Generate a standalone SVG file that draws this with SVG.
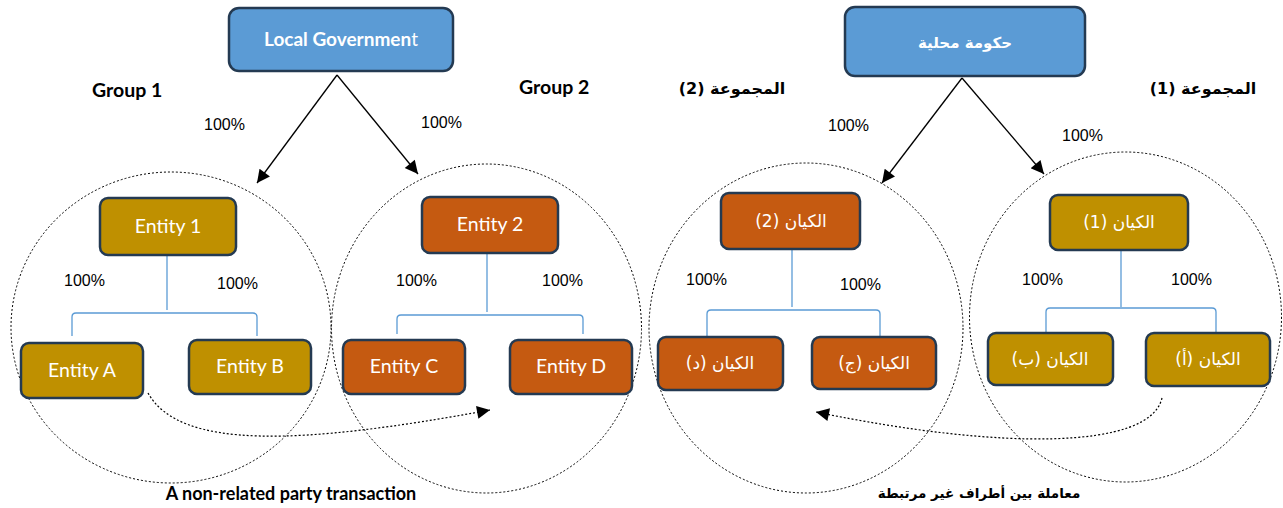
<svg xmlns="http://www.w3.org/2000/svg" width="1283" height="508" viewBox="0 0 1283 508">
<defs>
<marker id="ah" viewBox="0 0 10 10" refX="10" refY="5" markerUnits="userSpaceOnUse" markerWidth="15" markerHeight="13" orient="auto"><path d="M0,0 L10,5 L0,10 z" fill="#000"/></marker>
<style>
.box{stroke:#243a52;stroke-width:2.5}
.blue{fill:#5b9bd5}.gold{fill:#bf9000}.orng{fill:#c55a11}
.t{font-family:Lato,"Liberation Sans",sans-serif;font-size:19.5px;fill:#fff;text-anchor:middle}
.ta{font-family:"DejaVu Sans",sans-serif;font-size:17px;fill:#fff;text-anchor:middle}
.hb{font-family:Lato,"Liberation Sans",sans-serif;font-size:18px;font-weight:bold;fill:#000}
.ha{font-family:"DejaVu Sans",sans-serif;font-size:15px;font-weight:bold;fill:#000;text-anchor:middle}
.p{font-family:"Liberation Sans",Arial,sans-serif;font-size:16px;fill:#000}
.circ{fill:none;stroke:#000;stroke-width:1;stroke-dasharray:2 2}
.br{fill:none;stroke:#5b9bd5;stroke-width:1.3}
.ar{fill:none;stroke:#000;stroke-width:1.3}
.dt{fill:none;stroke:#000;stroke-width:1.2;stroke-dasharray:2 2}
</style>
</defs>
<g id="circles">
<ellipse class="circ" cx="171" cy="327.5" rx="160" ry="155.5"/>
<ellipse class="circ" cx="486.5" cy="328.5" rx="155" ry="164.5"/>
<ellipse class="circ" cx="806" cy="328" rx="157" ry="165"/>
<ellipse class="circ" cx="1125.5" cy="317" rx="156" ry="165"/>
</g>
<g id="connectors">
<line class="ar" x1="337" y1="75" x2="257" y2="183" marker-end="url(#ah)"/>
<line class="ar" x1="337" y1="75" x2="418" y2="174" marker-end="url(#ah)"/>
<line class="ar" x1="962" y1="78" x2="882" y2="183" marker-end="url(#ah)"/>
<line class="ar" x1="962" y1="78" x2="1044" y2="174" marker-end="url(#ah)"/>
<line class="br" x1="167" y1="256" x2="167" y2="310"/>
<path class="br" d="M72,336 L72,317 Q72,313 76,313 L253,313 Q257,313 257,317 L257,336"/>
<line class="br" x1="487" y1="254" x2="487" y2="312"/>
<path class="br" d="M397,334 L397,319 Q397,315 401,315 L579,315 Q583,315 583,319 L583,334"/>
<line class="br" x1="792" y1="250" x2="792" y2="307"/>
<path class="br" d="M707,336 L707,314 Q707,310 711,310 L876,310 Q880,310 880,314 L880,336"/>
<line class="br" x1="1121" y1="251" x2="1121" y2="307"/>
<path class="br" d="M1046,333 L1046,312 Q1046,308 1050,308 L1212,308 Q1216,308 1216,312 L1216,333"/>
<path class="dt" d="M148,393 C180,450 300,445 490,410" marker-end="url(#ah)"/>
<path class="dt" d="M1162,398 C1150,450 1000,450 816,412" marker-end="url(#ah)"/>
</g>
<g id="local-gov"><rect class="box blue" x="229" y="8" width="224" height="63" rx="10"/><text class="t" x="341" y="46" font-weight="bold" style="font-size:19px">Local Governmen<tspan font-weight="normal">t</tspan></text></g>
<g id="entity-1"><rect class="box gold" x="100" y="198" width="136" height="57" rx="8"/><text class="t" x="168" y="233">Entity 1</text></g>
<g id="entity-2"><rect class="box orng" x="422" y="197" width="136" height="56" rx="8"/><text class="t" x="490" y="231">Entity 2</text></g>
<g id="entity-a"><rect class="box gold" x="21" y="343" width="122" height="55" rx="8"/><text class="t" x="82" y="377">Entity A</text></g>
<g id="entity-b"><rect class="box gold" x="189" y="340" width="122" height="54" rx="8"/><text class="t" x="250" y="373">Entity B</text></g>
<g id="entity-c"><rect class="box orng" x="343" y="340" width="122" height="54" rx="8"/><text class="t" x="404" y="373">Entity C</text></g>
<g id="entity-d"><rect class="box orng" x="510" y="340" width="122" height="54" rx="8"/><text class="t" x="571" y="373">Entity D</text></g>
<g id="ar-gov"><rect class="box blue" x="845" y="7" width="240" height="69" rx="10"/><text class="ha" x="965" y="48" direction="rtl" style="fill:#fff;font-size:15px">حكومة محلية</text></g>
<g id="ar-entity-2"><rect class="box orng" x="721" y="193" width="139" height="56" rx="8"/><text class="ta" x="791" y="227" direction="rtl">الكيان (2)</text></g>
<g id="ar-entity-1"><rect class="box gold" x="1050" y="195" width="138" height="55" rx="8"/><text class="ta" x="1119" y="228" direction="rtl">الكيان (1)</text></g>
<g id="ar-entity-d"><rect class="box orng" x="658" y="337" width="125" height="53" rx="8"/><text class="ta" x="720" y="369" direction="rtl">الكيان (د)</text></g>
<g id="ar-entity-j"><rect class="box orng" x="812" y="337" width="124" height="52" rx="8"/><text class="ta" x="874" y="369" direction="rtl">الكيان (ج)</text></g>
<g id="ar-entity-b"><rect class="box gold" x="988" y="333" width="125" height="52" rx="8"/><text class="ta" x="1050" y="365" direction="rtl">الكيان (ب)</text></g>
<g id="ar-entity-a"><rect class="box gold" x="1146" y="333" width="124" height="53" rx="8"/><text class="ta" x="1208" y="365" direction="rtl">الكيان (أ)</text></g>
<g id="labels">
<text class="hb" x="92" y="97" style="font-size:19.5px">Group 1</text>
<text class="hb" x="519" y="94" style="font-size:19.5px">Group 2</text>
<text class="hb" x="291" y="500" text-anchor="middle">A non-related party transaction</text>
<text class="ha" x="732" y="94" direction="rtl" style="font-size:16px">المجموعة (2)</text>
<text class="ha" x="1203" y="94" direction="rtl" style="font-size:16px">المجموعة (1)</text>
<text class="ha" x="979" y="498" direction="rtl" style="font-size:13.5px">معاملة بين أطراف غير مرتبطة</text>
<text class="p" x="204" y="130">100%</text>
<text class="p" x="421" y="128">100%</text>
<text class="p" x="828" y="131">100%</text>
<text class="p" x="1062" y="141">100%</text>
<text class="p" x="64" y="286">100%</text>
<text class="p" x="217" y="289">100%</text>
<text class="p" x="396" y="286">100%</text>
<text class="p" x="542" y="286">100%</text>
<text class="p" x="686" y="285">100%</text>
<text class="p" x="840" y="290">100%</text>
<text class="p" x="1022" y="285">100%</text>
<text class="p" x="1171" y="285">100%</text>
</g>
</svg>
